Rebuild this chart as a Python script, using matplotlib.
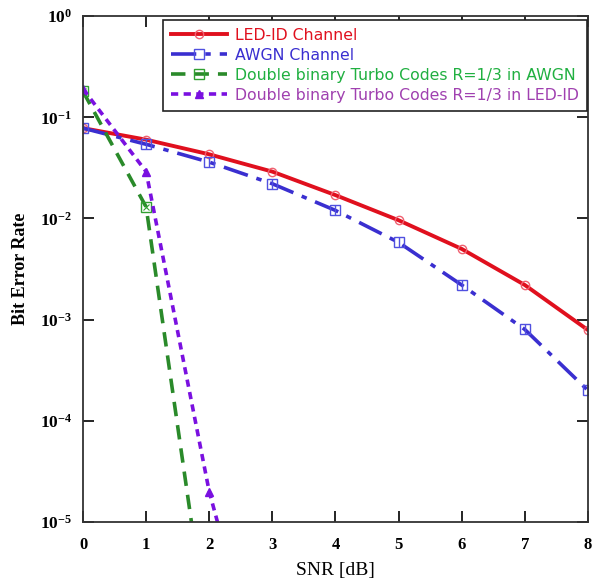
import matplotlib
matplotlib.use("Agg")
import matplotlib.pyplot as plt
from matplotlib.ticker import NullLocator

# ---- data -------------------------------------------------------------
snr = [0, 1, 2, 3, 4, 5, 6, 7, 8]
ber_led = [0.078, 0.060, 0.043, 0.029, 0.017, 0.0096, 0.0050, 0.0022, 0.00079]
ber_awgn = [0.078, 0.054, 0.036, 0.022, 0.012, 0.0058, 0.0022, 0.00080, 0.00020]

snr_turbo_awgn = [0, 1, 2]
ber_turbo_awgn = [0.18, 0.013, 6e-7]

snr_turbo_led = [0, 1, 2, 3]
ber_turbo_led = [0.19, 0.029, 2.0e-5, 1e-7]

x_ticks = [0, 1, 2, 3, 4, 5, 6, 7, 8]
y_ticks = [1e-5, 1e-4, 1e-3, 1e-2, 1e-1, 1e0]
y_labels = [r"$10^{-5}$", r"$10^{-4}$", r"$10^{-3}$", r"$10^{-2}$",
            r"$10^{-1}$", r"$10^{0}$"]

RED = "#e0101e"
BLUE = "#3a2fd0"
GREEN = "#2a8a2a"
PURPLE = "#7a10e0"

plt.rcParams["mathtext.fontset"] = "custom"
plt.rcParams["mathtext.rm"] = "Liberation Serif:bold"
plt.rcParams["mathtext.it"] = "Liberation Serif:bold"
plt.rcParams["mathtext.bf"] = "Liberation Serif:bold"

fig = plt.figure(figsize=(5.95, 5.85), dpi=100)
ax = fig.add_axes([0.1395, 0.1077, 0.8485, 0.8649])

ax.plot(snr, ber_led, color=RED, lw=2.8, marker="o", ms=6,
        mfc="none", mec="#f06070", mew=1.0, label="LED-ID Channel")
ax.plot(snr, ber_awgn, color=BLUE, lw=2.6, ls=(0, (7, 2.5, 1.5, 2.5)),
        marker="s", ms=7, mfc="none", mec="#5050e0", mew=1.0,
        label="AWGN Channel")
ax.plot(snr, ber_awgn, ls="none", marker="|", ms=7, mec="#5050e0", mew=1.0)
ax.plot(snr_turbo_awgn, ber_turbo_awgn, color=GREEN, lw=2.6, ls=(0, (4, 2.5)),
        marker="s", ms=7, mfc="none", mec="#30a030", mew=1.0,
        label="Double binary Turbo Codes R=1/3 in AWGN")
ax.plot(snr_turbo_awgn, ber_turbo_awgn, ls="none", marker="x", ms=4,
        mec="#30a030", mew=0.8)
ax.plot(snr_turbo_led, ber_turbo_led, color=PURPLE, lw=2.6, ls=(0, (2, 1.5)),
        marker="^", ms=6, mfc=PURPLE, mec=PURPLE,
        label="Double binary Turbo Codes R=1/3 in LED-ID")

ax.set_yscale("log")
ax.set_xlim(0, 8)
ax.set_ylim(1e-5, 1e0)
ax.set_xticks(x_ticks)
ax.set_xticklabels([str(t) for t in x_ticks], family="Liberation Serif",
                   fontweight="bold", fontsize=12)
ax.set_yticks(y_ticks)
ax.set_yticklabels(y_labels, fontsize=12.5)
ax.yaxis.set_minor_locator(NullLocator())
ax.tick_params(direction="in", length=8, width=1.2, pad=11,
               top=True, right=True)
ax.tick_params(axis="y", pad=8)
for sp in ax.spines.values():
    sp.set_linewidth(1.3)
    sp.set_color("#333333")

ax.set_xlabel("SNR [dB]", family="Liberation Serif", fontsize=14,
              labelpad=6)
ax.set_ylabel("Bit Error Rate", family="Liberation Serif", fontweight="bold",
              fontsize=13, labelpad=8)

leg = ax.legend(loc="upper right", bbox_to_anchor=(0.998, 0.992),
                fancybox=False, framealpha=1, edgecolor="#222222",
                prop={"family": "DejaVu Sans", "size": 11.3},
                handlelength=3.6, handletextpad=0.5, borderpad=0.5,
                labelspacing=0.32, borderaxespad=0)
leg.get_frame().set_linewidth(1.2)
for txt, col in zip(leg.get_texts(), [RED, BLUE, "#20b040", "#a040b0"]):
    txt.set_color(col)

fig.savefig("out.png", dpi=100, facecolor="white")
